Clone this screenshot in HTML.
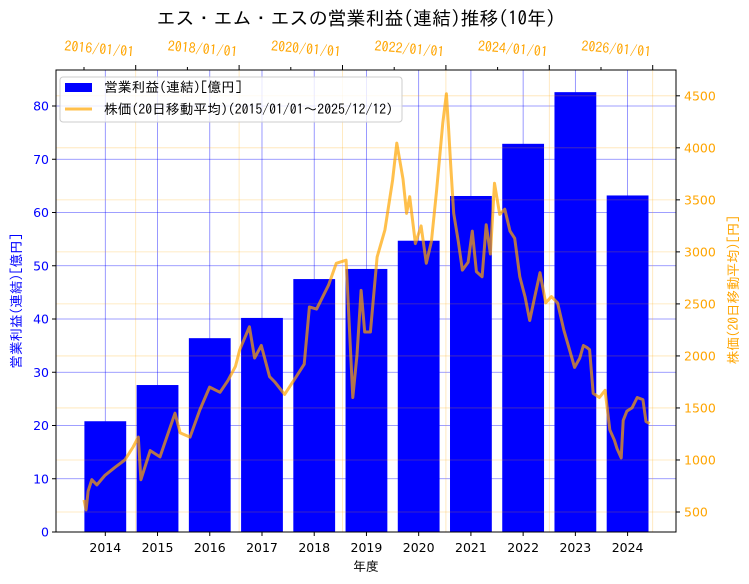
<!DOCTYPE html>
<html><head><meta charset="utf-8"><style>
body{margin:0;background:#fff}
svg{display:block;font-family:"DejaVu Sans","IPAGothic",sans-serif}
.jp{font-family:"IPAGothic","Noto Sans CJK JP",sans-serif}
</style></head><body>
<svg id="chart" width="749" height="584" xmlns="http://www.w3.org/2000/svg"></svg>
<script>
const years = [2014,2015,2016,2017,2018,2019,2020,2021,2022,2023,2024];
const profits = [20.8,27.6,36.4,40.2,47.5,49.4,54.7,63.1,72.9,82.6,63.2];
const leftTicks = [0,10,20,30,40,50,60,70,80];
const rightTicks = [500,1000,1500,2000,2500,3000,3500,4000,4500];
const dateTicks = [2016,2018,2020,2022,2024,2026];
const dateMinor = [2015,2017,2019,2021,2023,2025];
const priceDates = [2015.0,2015.04,2015.08,2015.15,2015.25,2015.4,2015.6,2015.79,2015.95,2016.05,2016.1,2016.28,2016.47,2016.76,2016.86,2017.05,2017.24,2017.43,2017.63,2017.78,2017.93,2018.01,2018.2,2018.3,2018.43,2018.59,2018.69,2018.88,2019.09,2019.26,2019.36,2019.5,2019.73,2019.88,2020.07,2020.2,2020.28,2020.36,2020.43,2020.54,2020.67,2020.82,2020.97,2021.05,2021.17,2021.24,2021.3,2021.41,2021.52,2021.62,2021.72,2021.82,2021.94,2022.01,2022.05,2022.09,2022.15,2022.24,2022.32,2022.43,2022.51,2022.59,2022.7,2022.78,2022.86,2022.94,2023.04,2023.14,2023.24,2023.33,2023.43,2023.53,2023.62,2023.72,2023.82,2023.93,2024.04,2024.16,2024.28,2024.39,2024.49,2024.59,2024.66,2024.73,2024.78,2024.85,2024.97,2025.08,2025.17,2025.26,2025.31,2025.39,2025.43,2025.5,2025.6,2025.7,2025.81,2025.87,2025.94];
const prices = [615,520,700,810,760,850,930,1000,1125,1220,810,1090,1030,1450,1260,1220,1480,1700,1650,1760,1900,2056,2280,1980,2100,1800,1750,1630,1790,1920,2470,2450,2680,2890,2920,1600,2010,2630,2230,2230,2950,3210,3690,4045,3700,3370,3530,3080,3250,2890,3100,3590,4240,4520,4200,3850,3370,3100,2825,2900,3200,2810,2760,3260,2980,3660,3360,3410,3200,3130,2760,2570,2340,2570,2800,2510,2570,2510,2250,2060,1890,1980,2100,2080,2060,1640,1600,1670,1290,1190,1110,1020,1380,1470,1500,1600,1580,1370,1350,1380];

const NS="http://www.w3.org/2000/svg";
const svg=document.getElementById('chart');
const L=56,R=676,T=70,B=532;
const xY=v=>105.3+(v-2014)*52.23;
const yL=v=>532-v*5.325;
const yR=v=>512-(v-500)*0.10405;
const xD=v=>84+(v-2015)*51.7;
function el(tag,attrs,parent){const e=document.createElementNS(NS,tag);for(const k in attrs)e.setAttribute(k,attrs[k]);(parent||svg).appendChild(e);return e;}
function txt(s,attrs,parent){const e=el('text',attrs,parent);e.textContent=s;return e;}

const gb=el('g',{});


leftTicks.forEach(v=>el('line',{x1:L,x2:R,y1:yL(v),y2:yL(v),stroke:'#0000ff','stroke-opacity':0.5,'stroke-width':0.8},gb));
years.forEach(v=>el('line',{x1:xY(v),x2:xY(v),y1:T,y2:B,stroke:'#0000ff','stroke-opacity':0.5,'stroke-width':0.8},gb));
years.forEach((y,i)=>{
  const r=el('rect',{x:xY(y)-20.9,y:yL(profits[i]),width:41.8,height:B-yL(profits[i]),fill:'#0000ff'});
  
  
});
const go=el('g',{});


rightTicks.forEach(v=>el('line',{x1:L,x2:R,y1:yR(v),y2:yR(v),stroke:'#ffa500','stroke-opacity':0.3,'stroke-width':0.8},go));
dateTicks.forEach(v=>el('line',{x1:xD(v),x2:xD(v),y1:T,y2:B,stroke:'#ffa500','stroke-opacity':0.3,'stroke-width':0.8},go));
const pts=priceDates.map((d,i)=>xD(d).toFixed(1)+','+yR(prices[i]).toFixed(1)).join(' ');
const pl=el('polyline',{points:pts,fill:'none',stroke:'#ffa500','stroke-opacity':0.7,'stroke-width':3,'stroke-linejoin':'round'});


el('rect',{x:L,y:T,width:R-L,height:B-T,fill:'none',stroke:'#000','stroke-width':1});
leftTicks.forEach(v=>{el('line',{x1:L-4,x2:L,y1:yL(v),y2:yL(v),stroke:'#000'});
  const t=txt(String(v),{x:L-7,y:yL(v)+4.5,'text-anchor':'end','font-size':12.5,fill:'#0000ff'});
  });
rightTicks.forEach(v=>{el('line',{x1:R,x2:R+4,y1:yR(v),y2:yR(v),stroke:'#000'});
  const t=txt(String(v),{x:R+8,y:yR(v)+4.5,'font-size':12.5,fill:'#ffa500'});
  });
years.forEach(v=>{el('line',{x1:xY(v),x2:xY(v),y1:B,y2:B+4,stroke:'#000'});
  const t=txt(String(v),{x:xY(v),y:B+20,'text-anchor':'middle','font-size':12.5,fill:'#000'});
  });
dateMinor.forEach(v=>el('line',{x1:xD(v),x2:xD(v),y1:T-3,y2:T,stroke:'#000'}));
dateTicks.forEach(v=>{el('line',{x1:xD(v),x2:xD(v),y1:T-5,y2:T,stroke:'#000'});
  const t=txt(v+'/01/01',{x:0,y:0,'text-anchor':'end','font-size':14,fill:'#ffa500',class:'jp',transform:`translate(${xD(v)-2},${T-13}) rotate(5)`});
  });
const ti=txt('エス・エム・エスの営業利益(連結)推移(10年)',{x:356,y:25,'text-anchor':'middle','font-size':19,fill:'#000',class:'jp'});

const xl=txt('年度',{x:366,y:571,'text-anchor':'middle','font-size':13,fill:'#000',class:'jp'});

const yl=txt('営業利益(連結)[億円]',{x:0,y:0,'text-anchor':'middle','font-size':13.5,fill:'#0000ff',class:'jp',transform:'translate(21,301) rotate(-90)'});

const yr=txt('株価(20日移動平均)[円]',{x:0,y:0,'text-anchor':'middle','font-size':13.5,fill:'#ffa500',class:'jp',transform:'translate(738,290) rotate(-90)'});

const lg=el('g',{});


el('rect',{x:60,y:77,width:342,height:45,rx:3,fill:'#fff','fill-opacity':0.8,stroke:'#ccc'},lg);
el('rect',{x:65,y:83,width:27,height:9,fill:'#0000ff'},lg);
txt('営業利益(連結)[億円]',{x:104,y:92,'font-size':13.8,fill:'#000',class:'jp'},lg);
el('line',{x1:65,x2:92,y1:109,y2:109,stroke:'#ffa500','stroke-opacity':0.7,'stroke-width':3},lg);
txt('株価(20日移動平均)(2015/01/01～2025/12/12)',{x:104,y:114,'font-size':13.8,fill:'#000',class:'jp','textLength':289,'lengthAdjust':'spacingAndGlyphs'},lg);
</script>
</body></html>
